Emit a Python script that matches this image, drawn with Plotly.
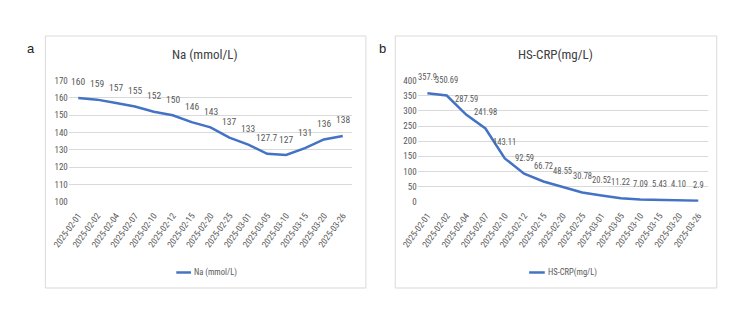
import plotly.graph_objects as go

dates = ["2025-02-01", "2025-02-02", "2025-02-04", "2025-02-07", "2025-02-10", "2025-02-12",
         "2025-02-15", "2025-02-20", "2025-02-25", "2025-03-01", "2025-03-05", "2025-03-10",
         "2025-03-15", "2025-03-20", "2025-03-26"]
na_values = [160, 159, 157, 155, 152, 150, 146, 143, 137, 133, 127.7, 127, 131, 136, 138]
na_labels = ["160", "159", "157", "155", "152", "150", "146", "143", "137", "133", "127.7", "127",
             "131", "136", "138"]
crp_values = [357.9, 350.69, 287.59, 241.98, 143.11, 92.59, 66.72, 48.55, 30.78, 20.52, 11.22,
              7.09, 5.43, 4.10, 2.9]
crp_labels = ["357.9", "350.69", "287.59", "241.98", "143.11", "92.59", "66.72", "48.55", "30.78",
              "20.52", "11.22", "7.09", "5.43", "4.10", "2.9"]
na_title = "Na (mmol/L)"
crp_title = "HS-CRP(mg/L)"
na_ticks = [100, 110, 120, 130, 140, 150, 160, 170]
crp_ticks = [0, 50, 100, 150, 200, 250, 300, 350, 400]

W, H = 750, 324
BLUE = "#4472C4"
GRAY = "#595959"
GRID = "#D9D9D9"
FONT = "Liberation Sans Narrow, Arial Narrow, Roboto Condensed, Liberation Sans, sans-serif"


def px(x):
    return x / W


def py(y):
    return (H - y) / H


fig = go.Figure()
fig.add_trace(go.Scatter(x=dates, y=na_values, mode="lines", line=dict(color=BLUE, width=2.5),
                         xaxis="x", yaxis="y", showlegend=False, name=na_title))
fig.add_trace(go.Scatter(x=dates, y=crp_values, mode="lines", line=dict(color=BLUE, width=2.5),
                         xaxis="x2", yaxis="y2", showlegend=False, name=crp_title))

annotations = []
for d, v, t in zip(dates, na_values, na_labels):
    annotations.append(dict(x=d, y=v, xref="x", yref="y", text=t, showarrow=False,
                            xanchor="center", yanchor="middle",
                            yshift=16, font=dict(family=FONT, size=9.5, color=GRAY)))
for d, v, t in zip(dates, crp_values, crp_labels):
    annotations.append(dict(x=d, y=v, xref="x2", yref="y2", text=t, showarrow=False,
                            xanchor="center", yanchor="middle",
                            yshift=16, font=dict(family=FONT, size=8.5, color=GRAY)))


def label(x, y, text, size, color, family=FONT, xanchor="center"):
    return dict(x=px(x), y=py(y), xref="paper", yref="paper", text=text, showarrow=False,
                xanchor=xanchor, yanchor="middle", borderpad=0,
                font=dict(family=family, size=size, color=color))


ARIAL = "Liberation Sans, Arial, sans-serif"
annotations += [
    label(192, 51, na_title, 13, "#404040"),
    label(551, 51, crp_title, 13, "#404040"),
    label(14, 45, "a", 13, "#222", ARIAL),
    label(374, 45, "b", 13, "#222", ARIAL),
    label(180, 276, na_title, 8.5, GRAY, xanchor="left"),
    label(542, 276, crp_title, 8.5, GRAY, xanchor="left"),
]

shapes = [
    dict(type="rect", xref="paper", yref="paper", x0=px(29), x1=px(357), y0=py(292), y1=py(32),
         line=dict(color=GRID, width=1)),
    dict(type="rect", xref="paper", yref="paper", x0=px(387), x1=px(716), y0=py(292), y1=py(32),
         line=dict(color=GRID, width=1)),
    dict(type="line", xref="paper", yref="paper", x0=px(163), x1=px(178), y0=py(276), y1=py(276),
         line=dict(color=BLUE, width=2.5)),
    dict(type="line", xref="paper", yref="paper", x0=px(524), x1=px(540), y0=py(276), y1=py(276),
         line=dict(color=BLUE, width=2.5)),
]

xcommon = dict(type="category", range=[-0.5, 14.5], showgrid=False, zeroline=False,
               tickangle=-54, tickfont=dict(family=FONT, size=9, color=GRAY), ticks="",
               ticklabelstandoff=6, showline=False, fixedrange=True)
ycommon = dict(showgrid=True, gridcolor=GRID, gridwidth=1, zeroline=False, ticks="",
               tickfont=dict(family=FONT, size=9, color=GRAY), showline=False, fixedrange=True)

fig.update_layout(
    width=W, height=H, margin=dict(l=0, r=0, t=0, b=0),
    paper_bgcolor="white", plot_bgcolor="white",
    xaxis=dict(domain=[px(53), px(343)], anchor="y", **xcommon),
    yaxis=dict(domain=[py(203), py(78)], anchor="x", range=[100, 170], tickvals=na_ticks, **ycommon),
    xaxis2=dict(domain=[px(410), px(707)], anchor="y2", **xcommon),
    yaxis2=dict(domain=[py(203), py(78)], anchor="x2", range=[0, 400], tickvals=crp_ticks, **ycommon),
    annotations=annotations, shapes=shapes, showlegend=False,
)

fig.write_html("out.html")
